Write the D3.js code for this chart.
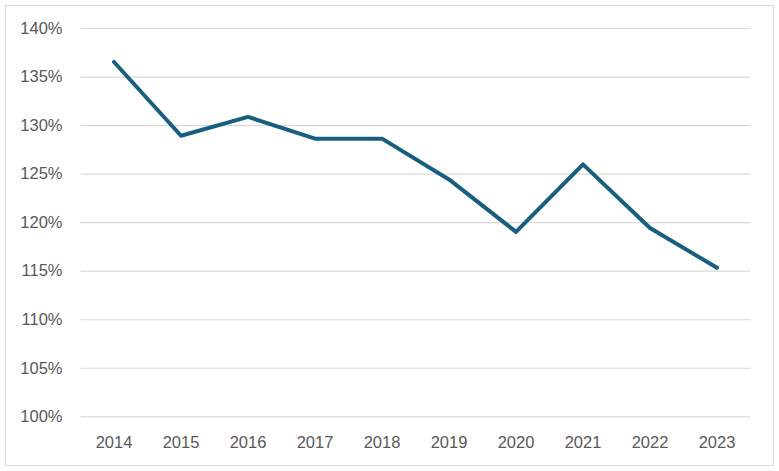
<!DOCTYPE html>
<html><head><meta charset="utf-8">
<script src="https://cdn.jsdelivr.net/npm/d3@7"></script>
<style>body{margin:0;background:#fff}svg{display:block}</style>
</head><body>
<svg id="c" width="779" height="471"></svg>
<script>
const years = ["2014","2015","2016","2017","2018","2019","2020","2021","2022","2023"];
const ratios = [136.5, 128.9, 130.85, 128.6, 128.6, 124.4, 119.0, 125.95, 119.4, 115.3];
const yTicks = [100,105,110,115,120,125,130,135,140];

(function(){
const svg = d3.select("#c");
svg.append("rect").attr("x",5.5).attr("y",5.5).attr("width",768).attr("height",460)
  .attr("fill","#fff").attr("stroke","#d9d9d9").attr("stroke-width",1);

const mLeft = 80.5, mRight = 750.5, mTop = 28, mBottom = 416.3;
const x = d3.scaleBand().domain(years).range([mLeft,mRight]);
const y = d3.scaleLinear().domain([100,140]).range([mBottom,mTop]);
const font = "'Liberation Sans', Arial, sans-serif";

const yAxis = svg.append("g").attr("transform",`translate(${mLeft},0)`)
  .call(d3.axisLeft(y).tickValues(yTicks).tickSize(-(mRight-mLeft)).tickFormat(d=>d+"%").tickPadding(18));
yAxis.select(".domain").remove();
yAxis.selectAll("line").attr("stroke","#d9d9d9").attr("stroke-width",1.2);
yAxis.selectAll("text").attr("fill","#595959").style("font-family",font).style("font-size","16.5px");

const xAxis = svg.append("g").attr("transform",`translate(0,${mBottom})`)
  .call(d3.axisBottom(x).tickSize(0).tickPadding(19.5));
xAxis.select(".domain").remove();
xAxis.selectAll("text").attr("fill","#595959").style("font-family",font).style("font-size","16.5px");

const line = d3.line().x((d,i)=>x(years[i])+x.bandwidth()/2).y(d=>y(d));
svg.append("path").datum(ratios).attr("d",line).attr("fill","none")
  .attr("stroke","#185f7f").attr("stroke-width",4).attr("stroke-linejoin","round").attr("stroke-linecap","round");
})();
</script>
</body></html>
